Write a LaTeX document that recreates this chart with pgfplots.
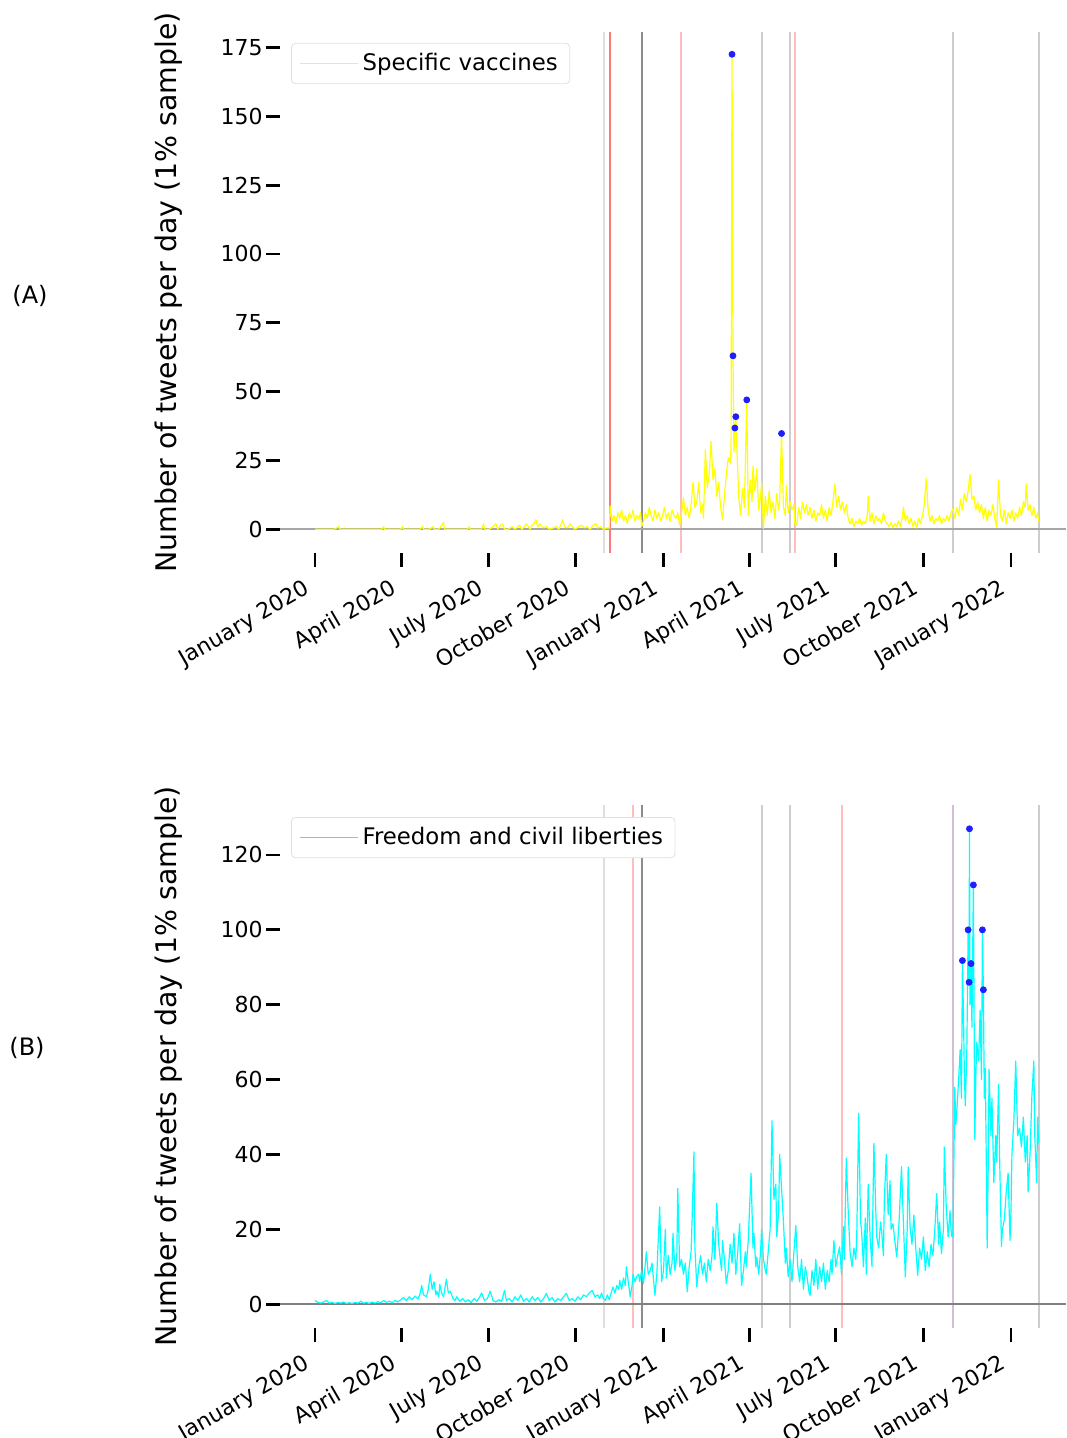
\documentclass[border=0pt]{standalone}
\usepackage{fontspec}
\setmainfont{DejaVu Sans}
\usepackage{pgfplots}
\pgfplotsset{compat=1.18}

\definecolor{vlgray}{RGB}{222,222,222}
\definecolor{vmgray}{RGB}{205,205,205}
\definecolor{vdgray}{RGB}{140,140,140}
\definecolor{vred}{RGB}{255,120,120}
\definecolor{vlred}{RGB}{255,190,190}
\definecolor{vpurple}{RGB}{212,188,212}
\definecolor{mkblue}{RGB}{30,30,255}
\definecolor{pureyellow}{RGB}{255,255,0}
\definecolor{purecyan}{RGB}{0,255,255}

\pgfplotsset{
  tweetaxis/.style={
    scale only axis,
    width=393pt,
    xmin=-36.8, xmax=788.8,
    axis line style={draw=none},
    tick align=outside,
    xtick pos=bottom, ytick pos=left,
    major tick length=7pt,
    tick style={black, line width=1.4pt},
    xtick={0,91,182,274,366,456,547,639,731},
    xticklabels={January 2020,April 2020,July 2020,October 2020,January 2021,April 2021,July 2021,October 2021,January 2022},
    xticklabel style={rotate=30, anchor=north east, font=\fontsize{11}{13}\selectfont, inner sep=0pt, text height=8pt, text depth=2.6pt, xshift=-8pt, yshift=-2pt},
    yticklabel style={font=\fontsize{11}{13}\selectfont, inner sep=0pt, xshift=-1.5pt},
    /pgf/number format/assume math mode=true,
    ylabel={Number of tweets per day (1\% sample)},
    ylabel style={font=\fontsize{14.2}{16}\selectfont, at={(axis description cs:-0.142,0.5)}, anchor=center},
    legend style={draw=black!12, rounded corners=2pt, font=\fontsize{11.4}{13}\selectfont, anchor=north west, inner xsep=4pt, inner ysep=3pt},
    legend image code/.code={\draw[#1] (0pt,0pt) -- (23.5pt,0pt); \path (0pt,0pt) -- (29pt,0pt);},
    legend cell align=left,
    clip=true,
  }
}

\begin{document}
\begin{tikzpicture}
\path[use as bounding box] (0,0) rectangle (533pt,-719pt);

\node[font=\fontsize{12}{14}\selectfont] at (15pt,-148pt) {(A)};
\node[font=\fontsize{12}{14}\selectfont] at (13.5pt,-524pt) {(B)};

% ---------------- Panel A ----------------
\begin{axis}[tweetaxis, at={(140pt,-16pt)}, anchor=north west,
  height=260.5pt, ymin=-8.6, ymax=180.6,
  ytick={0,25,50,75,100,125,150,175},
  legend style={at={(0.014,0.979)}}]
\addplot[vlgray, line width=1pt, forget plot] coordinates {(304,-8.6) (304,180.6)};
\addplot[vred, line width=1pt, forget plot] coordinates {(309.5,-8.6) (309.5,180.6)};
\addplot[vdgray, line width=1pt, forget plot] coordinates {(343,-8.6) (343,180.6)};
\addplot[vlred, line width=1pt, forget plot] coordinates {(384.5,-8.6) (384.5,180.6)};
\addplot[vmgray, line width=1pt, forget plot] coordinates {(469.5,-8.6) (469.5,180.6)};
\addplot[vmgray, line width=1pt, forget plot] coordinates {(499,-8.6) (499,180.6)};
\addplot[vlred, line width=1pt, forget plot] coordinates {(504,-8.6) (504,180.6)};
\addplot[vmgray, line width=1pt, forget plot] coordinates {(670,-8.6) (670,180.6)};
\addplot[vmgray, line width=1pt, forget plot] coordinates {(760,-8.6) (760,180.6)};
\addplot[black!35, line width=1pt, forget plot] coordinates {(-36.8,0) (788.8,0)};

\addplot[pureyellow, line width=0.6pt, line join=round] coordinates {
(0,0) (5,0) (10,0) (15,0) (20,0) (25,1) (26,0) (30,0) (35,0) (40,0) (45,0) (50,0) (55,0) (60,0) (65,0) (70,0) (72,1) (73,0) (80,0) (85,0) (90,0) (92,1) (93,0) (100,0) (105,0) (110,0) (113,1) (114,0) (120,0) (124,1) (125,0) (130,0) (135,2.5) (136,0) (140,0) (145,0) (150,0) (155,0) (160,0) (162,1) (163,0) (170,0) (175,0) (177,2) (178,0) (183,0) (187,1) (190,2) (192,0) (195,1.5) (197,2) (199,0) (203,0) (207,1) (210,0) (213,1) (215,1.5) (217,0) (220,1) (222,2) (224,1) (226,0) (228,1.5) (230,2) (232,3.5) (234,1) (236,2) (238,1) (240,0.5) (243,1) (246,0) (250,0.5) (253,1) (256,0) (258,1.5) (260,3.5) (262,1) (264,0.5) (266,1) (268,2) (270,1) (273,0) (277,1) (280,1.5) (283,0.5) (286,1) (289,0) (292,1.5) (295,2) (297,0.5) (300,1) (303,0) (306,0.5) (309,0.5)
(310,8.5) (312,3) (314,5) (316,2) (318,6) (320,4) (322,7) (324,3) (326,5) (328,2) (330,6) (332,4) (334,7) (336,3) (338,5) (340,4) (342,6) (343,1) (345,3) (347,6) (349,4) (351,8) (353,5) (355,3) (357,7) (359,4) (361,6) (363,3) (365,5) (367,8) (369,4) (371,6) (373,3) (375,7) (377,5) (379,4) (381,6) (383,1.5) (385,6) (387,11.5) (389,5) (391,8) (393,4) (395,9) (397,17) (399,8) (401,10) (403,17) (405,6) (407,9) (408,4) (410,29) (412,15) (414,20) (416,32) (418,18) (420,22) (422,12) (424,17) (426,8) (428,3.6) (430,12) (432,20) (434,26) (436,24) (437,30) (438,172.5) (439,63) (440,28) (441,36.8) (442,40.9) (443,30) (445,12) (447,5) (449,15) (451,8) (453.5,47) (455,5) (457,18) (459,10) (460,23) (462,14) (464,22) (466,7) (468,12) (469,17) (471,0.3) (473,12) (475,5) (477,14) (479,6) (481,10) (483,4) (485,13) (487,7) (488,10) (490,34.8) (492,8) (494,5) (495,16) (497,6) (499,10) (501,7) (503,9) (504,2) (506,1.5) (508,8) (510,4) (512,10) (514,6) (516,9) (518,5) (520,8) (522,4) (524,7) (526,3) (528,6) (530,5) (532,9) (534,4) (536,7) (538,3) (540,8) (542,5) (544,10) (546,16.5) (548,8) (550,12) (552,7) (554,10) (556,6) (558,9) (560,4) (562,2) (564,4) (566,1) (568,3) (570,2) (572,4) (574,1.5) (576,3) (578,2) (580,5) (581,12) (583,3) (585,6) (587,2) (589,5) (591,3) (593,4) (595,2) (597,6) (599,3) (601,2) (603,1) (605,2.5) (607,0.5) (609,2) (611,1) (613,3) (615,1) (617,5) (618,8) (620,3) (622,5) (624,2) (626,4) (628,1) (630,3) (632,0.5) (634,4) (636,2) (638,5) (640,9) (642,18.4) (644,7) (646,3) (648,5) (650,2) (652,4) (654,3) (656,5) (658,2) (660,4) (662,3) (664,5) (666,3) (668,6) (670,7.5) (672,4) (674,8) (676,5) (678,11) (680,7) (682,13) (684,10) (686,14) (688,20) (690,11) (692,12) (694,7) (696,10) (698,6) (700,9) (702,4) (704,8) (706,3) (708,7) (710,5) (712,9) (714,4) (716,0.8) (718,18) (720,5) (722,3) (724,7) (726,2) (728,6) (730,4) (732,7) (734,3) (736,6) (738,4) (740,8) (742,5) (744,10) (746,8) (747,16.5) (749,7) (751,9) (753,5) (755,8) (757,4) (759,6) (760,3)
};
\addlegendentry{Specific vaccines}
\addplot[only marks, mark=*, mark size=1.5pt, mkblue, forget plot] coordinates {
(438,172.5) (439,63) (441,36.8) (442,40.9) (453.5,47) (490,34.8)
};
\end{axis}

% ---------------- Panel B ----------------
\begin{axis}[tweetaxis, at={(140pt,-402.5pt)}, anchor=north west,
  height=261.5pt, ymin=-6.35, ymax=133.35,
  ytick={0,20,40,60,80,100,120},
  legend style={at={(0.014,0.977)}}]
\addplot[vlgray, line width=1pt, forget plot] coordinates {(304,-6.35) (304,133.35)};
\addplot[vlred, line width=1pt, forget plot] coordinates {(333.7,-6.35) (333.7,133.35)};
\addplot[vdgray, line width=1pt, forget plot] coordinates {(343,-6.35) (343,133.35)};
\addplot[vmgray, line width=1pt, forget plot] coordinates {(469.5,-6.35) (469.5,133.35)};
\addplot[vmgray, line width=1pt, forget plot] coordinates {(499,-6.35) (499,133.35)};
\addplot[vlred, line width=1pt, forget plot] coordinates {(554,-6.35) (554,133.35)};
\addplot[vpurple, line width=1pt, forget plot] coordinates {(670,-6.35) (670,133.35)};
\addplot[vmgray, line width=1pt, forget plot] coordinates {(760,-6.35) (760,133.35)};
\addplot[black!50, line width=1pt, forget plot] coordinates {(-36.8,0) (788.8,0)};

\addplot[purecyan, line width=0.6pt, line join=round] coordinates {
(0,1) (3,0.5) (6,0.3) (9,0.6) (12,1) (15,0.3) (18,0.5) (21,0.2) (24,0.5) (27,0.3) (30,0.6) (33,0.2) (36,0.4) (39,0.2) (42,0.5) (45,0.3) (48,0.8) (51,0.3) (54,0.5) (57,0.2) (60,0.6) (63,0.3) (66,0.7) (69,0.4) (72,1) (75,0.5) (78,0.8) (81,0.4) (84,1) (87,0.6) (90,1.2) (93,1.8) (96,1) (99,2) (102,1.2) (105,2.2) (108,1.4) (110,2.5) (112,5) (114,2.5) (117,2) (119,4) (121,8) (123,4) (125,6) (127,2.5) (128,3.5) (130,2) (131,5.3) (133,3) (135,2) (138,6.7) (140,3) (142,3.5) (145,1.5) (147,1) (149,2) (152,0.8) (155,1.5) (158,0.6) (161,1.2) (164,0.5) (167,1.5) (170,0.8) (173,2) (175,3) (178,1) (181,1.5) (184,3.5) (187,1) (190,0.6) (193,1.2) (196,0.8) (199,3.7) (201,1) (204,1.5) (207,0.6) (210,2) (213,1) (216,2.5) (219,0.8) (222,1.5) (225,0.6) (228,2) (231,1) (234,1.8) (237,0.6) (240,1.5) (243,2.9) (246,1) (249,1.8) (252,0.6) (255,1.5) (258,1) (261,2) (264,2.9) (267,1) (270,1.5) (273,0.8) (276,2) (279,1.2) (282,2.5) (285,2) (288,3) (291,3.7) (294,2) (297,2.5) (299,1.5) (301,3) (303,1.5) (305,1) (307,2.5) (309,1.2) (311,3) (313,4.6) (315,3) (317,5) (319,4) (320,6.4) (322,4) (324,7) (326,5) (327,10) (329,6) (331,2) (333,5) (334,8) (336,6) (338,7.5) (340,8) (341,6) (343,9) (345,5.5) (348,14) (350,8) (352,9) (354,11) (357,2.4) (359,8) (362,26) (364,6) (366,9) (368,20) (369,7) (371,13) (373,8) (375,11) (376,19) (378,9) (380,13) (381,31) (383,10) (385,12) (387,8) (389,11) (391,3.3) (393,10) (395,14) (396,22) (398,40.7) (399,15) (401,4.6) (403,10) (405,13) (407,8) (409,11) (411,6) (413,12) (415,9) (417,13) (418,20.7) (420,12) (422,27) (424,16) (425,13.5) (427,9) (428,17) (430,12) (432,5.5) (434,9) (436,16) (438,11) (440,19) (442,8) (444,14) (446,21.5) (448,5) (450,9) (452,14) (453,10) (455,17) (458,35) (460,15) (461,19) (463,10) (464,12.6) (466,8) (468,14) (469,20) (471,12) (473,9) (474,8) (476,14) (478,20) (480,49) (482,28) (484,32) (485,18) (487,25) (488,40) (490,31) (492,22) (494,11) (495,15) (497,7.3) (499,12) (501,6) (503,14) (505,21) (507,10) (509,6) (511,12) (513,4) (515,10) (517,7) (519,3) (520,2.4) (522,9) (524,5) (526,12) (528,4) (530,10) (532,6) (534,11) (536,4) (538,9) (540,6) (542,12) (543,8) (545,17) (547,10) (549,13) (551,15.3) (553,8) (555,20.7) (556,12) (558,39) (560,25) (562,14) (564,10) (566,15) (568,12) (569,18) (571,51) (573,22) (574,20) (576,10) (578,23) (579,8) (581,32) (583,18) (585,10) (587,43) (589,25) (590,18) (592,15) (594,22) (595,20) (597,13) (598,28) (600,40) (602,24) (604,33) (605,20) (607,21.5) (609,17) (611,12.6) (613,20) (614,25) (616,36.7) (618,22) (620,7.3) (622,20) (623,36.7) (625,20.7) (627,16) (629,23.8) (631,15) (633,7.7) (635,15) (637,12) (639,18) (641,9) (643,14) (645,10) (647,16) (649,13) (651,20) (653,29.6) (655,16) (656,22) (658,13.5) (660,20) (661,42) (663,26) (665,18) (667,25) (668,20) (669,18) (670,18) (672,58) (673,48) (674,51) (676,60) (677.6,68) (679,55) (680,91.8) (681,78.6) (682,62) (683,53) (684.6,67) (686,100) (687,86) (687.4,127) (688,80) (689,91) (690,74) (691.5,112) (693,44) (694,60) (695,70) (697,65) (698.6,78.6) (700,60) (701,100) (702,84) (703,55) (704,63) (705,40) (706,15) (707,35) (708,62.8) (710,45) (711,55) (713,32.5) (715,45) (716,38) (718,58.7) (719,40) (721,15.4) (722,20) (724,22.6) (726,30) (728,35) (730,17) (731,25) (732,40) (734,48.8) (736,65) (738,45) (740,47) (742,42) (744,50) (746,38) (748,45) (749,30) (751,40) (753,56) (755,65) (756,45) (758,32.5) (759,50) (760,43)
};
\addlegendentry{Freedom and civil liberties}
\addplot[only marks, mark=*, mark size=1.5pt, mkblue, forget plot] coordinates {
(680,91.8) (686,100) (687,86) (687.4,127) (689,91) (691.5,112) (701,100) (702,84)
};
\end{axis}
\end{tikzpicture}
\end{document}
